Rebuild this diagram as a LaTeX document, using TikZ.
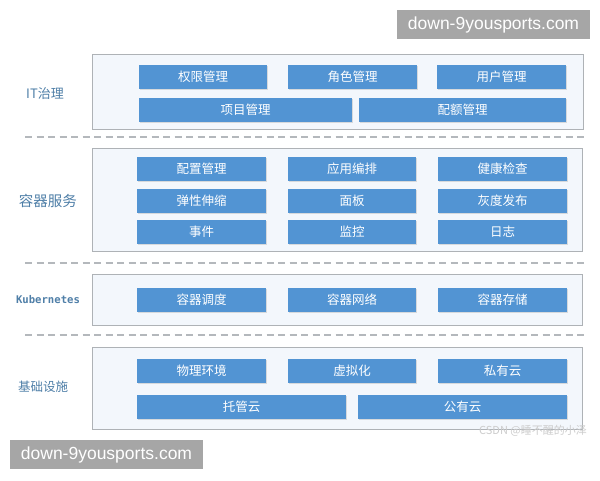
\documentclass[tikz,border=0pt]{standalone}
\usepackage{fontspec}
\setmainfont{Liberation Sans}
\newfontfamily\cjk{Noto Sans CJK SC}
\newfontfamily\monofam{DejaVu Sans Mono}
\usetikzlibrary{shadows}
\definecolor{boxblue}{HTML}{5294D3}
\definecolor{panelfill}{HTML}{F3F7FC}
\definecolor{panelline}{HTML}{AEB2B6}
\definecolor{labelcol}{HTML}{4F7FA8}
\definecolor{dashcol}{HTML}{B4B8BC}
\definecolor{wmgrey}{HTML}{A6A6A6}
\tikzset{
  box/.style={fill=boxblue, text=white, inner sep=0pt, draw=none,
    font=\cjk\fontsize{12.5}{14}\selectfont,
    drop shadow={opacity=0.25, shadow xshift=0.8pt, shadow yshift=-0.8pt}},
  panel/.style={fill=panelfill, draw=panelline, line width=1pt, inner sep=0pt},
  sep/.style={draw=dashcol, dash pattern=on 7pt off 4.5pt, line width=1.1pt},
  layerlabel/.style={text=labelcol, inner sep=0pt},
  wm/.style={fill=wmgrey, text=white, inner sep=0pt, font=\fontsize{17.5}{19}\selectfont}
}
\newcommand{\mybox}[6]{\node[box, minimum width={(#4-#2)*1pt}, minimum height={(#5-#3)*1pt}] (#1) at ({(#2+#4)/2},{(#3+#5)/2}) {#6};}
\newcommand{\mypanel}[5]{\node[panel, minimum width={(#4-#2)*1pt}, minimum height={(#5-#3)*1pt}] (#1) at ({(#2+#4)/2},{(#3+#5)/2}) {};}
\begin{document}
\begin{tikzpicture}[x=1pt,y=-1pt]
\useasboundingbox (0,0) rectangle (600,480);
\fill[white] (0,0) rectangle (600,480);
% separators
\coordinate (s1a) at (25,137); \coordinate (s1b) at (588,137);
\coordinate (s2a) at (25,263); \coordinate (s2b) at (588,263);
\coordinate (s3a) at (25,335); \coordinate (s3b) at (588,335);
\draw[sep] (s1a) -- (s1b);
\draw[sep] (s2a) -- (s2b);
\draw[sep] (s3a) -- (s3b);
% panels
\mypanel{pit}{92}{54}{583}{129}
\mypanel{pcs}{92}{148}{582}{251}
\mypanel{pk8}{92}{274}{582}{325}
\mypanel{pinf}{92}{347}{582}{429}
% labels
\node[layerlabel, font=\cjk\fontsize{13}{15}\selectfont] (lit) at (45,94) {IT治理};
\node[layerlabel, font=\cjk\fontsize{14.5}{16}\selectfont] (lcs) at (48,201) {容器服务};
\node[layerlabel, font=\monofam\bfseries\fontsize{10.6}{12}\selectfont] (lk8) at (48,300) {Kubernetes};
\node[layerlabel, font=\cjk\fontsize{12.5}{14}\selectfont] (linf) at (43,387) {基础设施};
% IT governance
\mybox{b1}{139}{65}{267}{89}{权限管理}
\mybox{b2}{288}{65}{417}{89}{角色管理}
\mybox{b3}{437}{65}{566}{89}{用户管理}
\mybox{b4}{139}{98}{352}{122}{项目管理}
\mybox{b5}{359}{98}{566}{122}{配额管理}
% container services
\mybox{c1}{137}{157}{266}{181}{配置管理}
\mybox{c2}{288}{157}{416}{181}{应用编排}
\mybox{c3}{438}{157}{567}{181}{健康检查}
\mybox{c4}{137}{189}{266}{213}{弹性伸缩}
\mybox{c5}{288}{189}{416}{213}{面板}
\mybox{c6}{438}{189}{567}{213}{灰度发布}
\mybox{c7}{137}{220}{266}{244}{事件}
\mybox{c8}{288}{220}{416}{244}{监控}
\mybox{c9}{438}{220}{567}{244}{日志}
% kubernetes
\mybox{k1}{137}{288}{266}{312}{容器调度}
\mybox{k2}{288}{288}{416}{312}{容器网络}
\mybox{k3}{438}{288}{567}{312}{容器存储}
% infrastructure
\mybox{i1}{137}{359}{266}{383}{物理环境}
\mybox{i2}{288}{359}{416}{383}{虚拟化}
\mybox{i3}{438}{359}{567}{383}{私有云}
\mybox{i4}{137}{395}{346}{419}{托管云}
\mybox{i5}{358}{395}{567}{419}{公有云}
% watermarks
\node[text=black!20, inner sep=0pt, font=\cjk\fontsize{11}{12}\selectfont] (csdn) at (533,431) {CSDN @睡不醒的小泽};
\node[wm, minimum width=193pt, minimum height=29pt] (wm1) at (493.5,24.5) {down-9yousports.com};
\node[wm, minimum width=193pt, minimum height=29pt] (wm2) at (106.5,454.5) {down-9yousports.com};
\end{tikzpicture}
\end{document}
